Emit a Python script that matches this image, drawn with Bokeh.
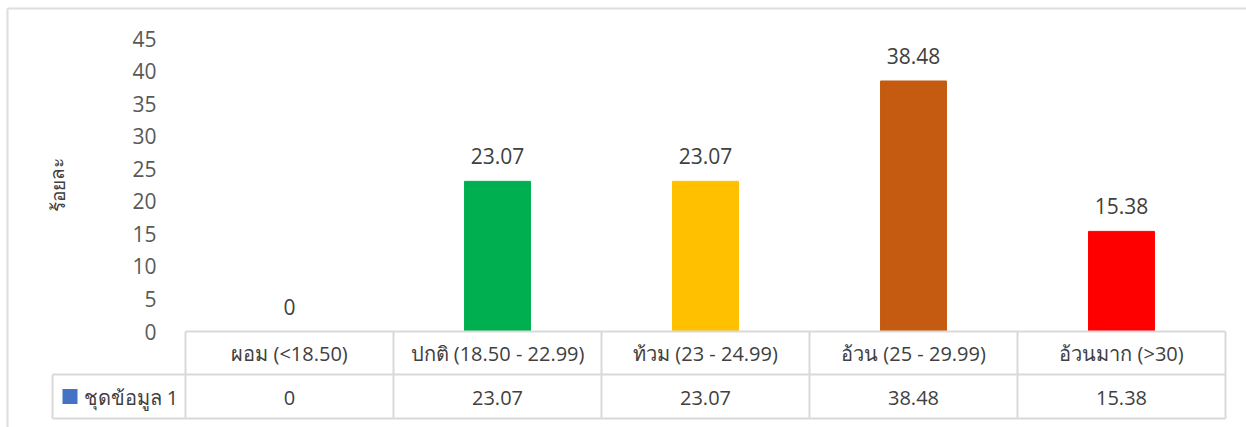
from bokeh.plotting import figure
from bokeh.models import Range1d, LinearAxis, FixedTicker
from bokeh.embed import file_html
from bokeh.resources import INLINE
from bokeh.core.properties import value

# ---- data ----
categories = ["ผอม (<18.50)", "ปกติ (18.50 - 22.99)", "ท้วม (23 - 24.99)",
              "อ้วน (25 - 29.99)", "อ้วนมาก (>30)"]
values = [0, 23.07, 23.07, 38.48, 15.38]
value_labels = ["0", "23.07", "23.07", "38.48", "15.38"]
bar_colors = ["#4472C4", "#00B050", "#FFC000", "#C55A11", "#FF0000"]
y_ticks = [0, 5, 10, 15, 20, 25, 30, 35, 40, 45]
series_name = "ชุดข้อมูล 1"
y_title = "ร้อยละ"

# ---- layout constants (pixels) ----
W, H = 1246, 427
PLOT_LEFT = 185          # px of the plot-area left edge
CAT_W = 208              # px per category
Y0 = 331                 # px of value 0
PX_PER_UNIT = 6.51

xs = -0.5 - PLOT_LEFT / CAT_W
xe = xs + W / CAT_W
ye = Y0 / PX_PER_UNIT
ys = ye - H / PX_PER_UNIT


def px_x(px):
    return xs + px / CAT_W


def px_y(py):
    return ye - py / PX_PER_UNIT


FONT = value("Open Sans")
GRID = "#d9d9d9"
TXT = "#404040"

p = figure(width=W, height=H, output_backend="svg", toolbar_location=None,
           x_range=Range1d(xs, xe), y_range=Range1d(ys, ye),
           x_axis_location=None, y_axis_location=None, min_border=0)
p.grid.visible = False
p.outline_line_color = None
p.background_fill_color = "white"
p.border_fill_color = "white"

yaxis = LinearAxis(fixed_location=px_x(168), ticker=FixedTicker(ticks=y_ticks))
yaxis.axis_line_color = None
yaxis.major_tick_line_color = None
yaxis.minor_tick_line_color = None
yaxis.major_label_standoff = 6
yaxis.major_label_text_font = "Open Sans"
yaxis.major_label_text_font_size = "21px"
yaxis.major_label_text_color = "#595959"
p.add_layout(yaxis, "left")

idx = list(range(len(categories)))

# bars
p.vbar(x=idx, top=values, width=0.317, color=bar_colors)

# data labels
p.text(x=idx, y=values, text=value_labels, text_align="center", text_baseline="alphabetic",
       y_offset=-25, text_font=FONT, text_font_size="21px", text_color=TXT)

# table lines
row_y = px_y(374)
bot_y = px_y(418)
leg_x = px_x(52)
last = len(categories) - 0.5
p.segment(x0=[-0.5, leg_x, leg_x], y0=[0, row_y, bot_y],
          x1=[last, last, last], y1=[0, row_y, bot_y], line_color=GRID, line_width=2)
vx = [i - 0.5 for i in range(len(categories) + 1)]
p.segment(x0=vx, y0=[0] * len(vx), x1=vx, y1=[bot_y] * len(vx), line_color=GRID, line_width=2)
p.segment(x0=[leg_x], y0=[row_y], x1=[leg_x], y1=[bot_y], line_color=GRID, line_width=2)

# outer border (top / left)
p.segment(x0=[px_x(7), px_x(7)], y0=[px_y(8), px_y(8)], x1=[xe, px_x(7)], y1=[px_y(8), ys],
          line_color="#dedede", line_width=2)

# category labels & values in table
p.text(x=idx, y=[px_y(353)] * len(idx), text=categories, text_align="center",
       text_baseline="middle", text_font=FONT, text_font_size="20px", text_color=TXT)
p.text(x=idx, y=[px_y(397)] * len(idx), text=value_labels, text_align="center",
       text_baseline="middle", text_font=FONT, text_font_size="20px", text_color=TXT)

# legend key & name
p.scatter(x=[px_x(69.5)], y=[px_y(396)], marker="square", size=15,
          color=bar_colors[0], line_color=None)
p.text(x=[px_x(83)], y=[px_y(397)], text=[series_name], text_align="left",
       text_baseline="middle", text_font=FONT, text_font_size="20px", text_color=TXT)

# axis title
p.text(x=[px_x(57)], y=[px_y(185)], text=[y_title], angle=1.5708, text_align="center",
       text_baseline="middle", text_font=FONT, text_font_size="19px", text_color=TXT)

open("out.html", "w").write(file_html(p, INLINE))
